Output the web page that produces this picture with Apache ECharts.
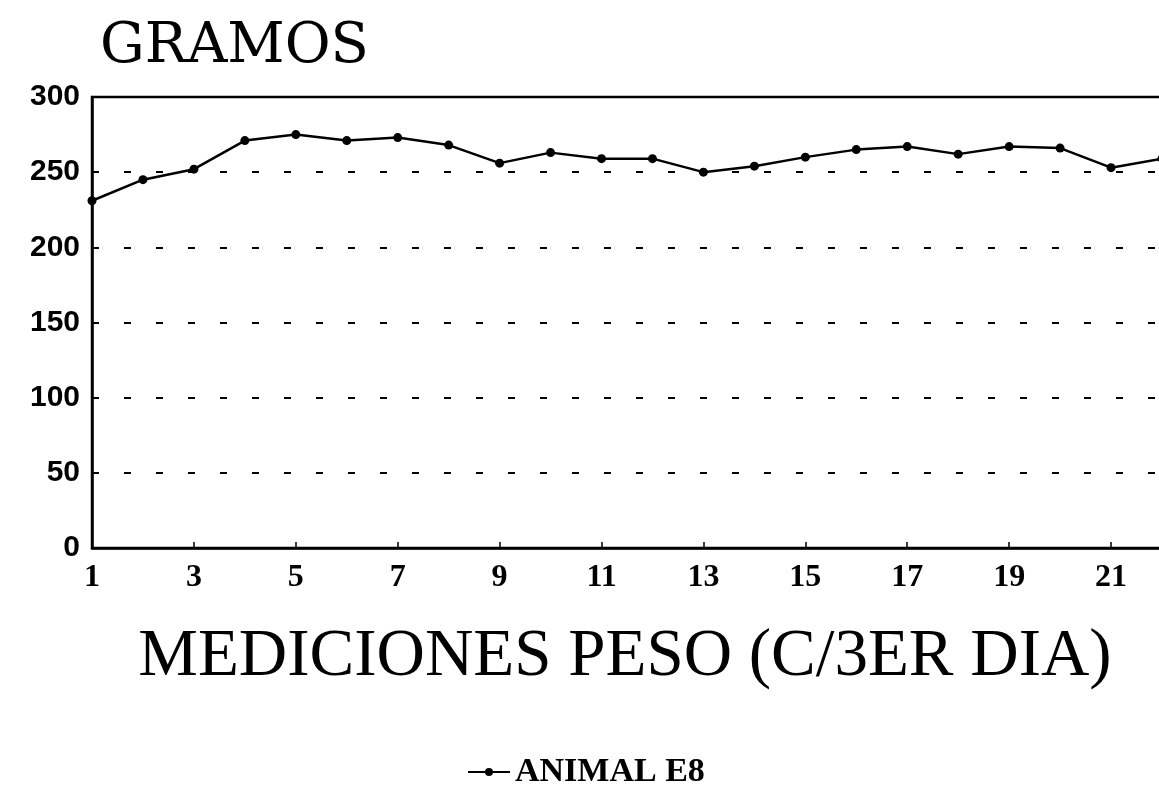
<!DOCTYPE html>
<html>
<head>
<meta charset="utf-8">
<script src="https://cdn.jsdelivr.net/npm/echarts@6/dist/echarts.min.js"></script>
<style>
  html, body { margin: 0; padding: 0; background: #fff; }
  #chart { width: 1159px; height: 789px; }
</style>
</head>
<body>
<div id="chart"></div>
<script>
// mediciones (cada 3er dia)
const mediciones = ['1','2','3','4','5','6','7','8','9','10','11','12','13','14','15','16','17','18','19','20','21','22']
// peso en gramos, animal E8
const animalE8 = [231, 245, 252, 271, 275, 271, 273, 268, 256, 263, 259, 259, 250, 254, 260, 265, 267, 262, 267, 266, 253, 259]

const chart = echarts.init(document.getElementById('chart'))

const option = {
  backgroundColor: '#fff',
  animation: false,
  title: [
    {
      text: 'GRAMOS',
      left: 95,
      top: 14,
      textStyle: { fontFamily: 'DejaVu Serif', fontSize: 56, fontWeight: 'normal', color: '#000' }
    },
    {
      text: 'MEDICIONES PESO (C/3ER DIA)',
      left: 620,
      top: 619,
      textAlign: 'center',
      textStyle: { fontFamily: 'Liberation Serif', fontSize: 67, fontWeight: 'normal', color: '#000' }
    }
  ],
  legend: {
    data: ['ANIMAL E8'],
    left: 462,
    top: 750,
    itemWidth: 42,
    itemHeight: 10,
    itemGap: 6,
    textStyle: { fontFamily: 'Liberation Serif', fontSize: 34, fontWeight: 'bold', color: '#000' }
  },
  grid: {
    left: 92,
    width: 1070,
    top: 97,
    bottom: 241,
    outerBoundsMode: 'none',
    containLabel: false,
    show: true,
    borderColor: '#000',
    borderWidth: 2.5
  },
  xAxis: {
    type: 'category',
    data: mediciones,
    boundaryGap: false,
    axisLine: { lineStyle: { color: '#000', width: 2.5 } },
    axisTick: { show: true, inside: true, interval: 1, length: 6, lineStyle: { color: '#000', width: 1.5 } },
    axisLabel: {
      interval: 1,
      margin: 14,
      fontFamily: 'Liberation Serif',
      fontSize: 32,
      fontWeight: 'bold',
      color: '#000'
    },
    splitLine: { show: false }
  },
  yAxis: {
    type: 'value',
    min: 0,
    max: 300,
    interval: 50,
    axisLine: { show: true, lineStyle: { color: '#000', width: 2.5 } },
    axisTick: { show: false },
    axisLabel: {
      margin: 12,
      fontFamily: 'Liberation Sans',
      fontSize: 30,
      fontWeight: 'bold',
      color: '#000'
    },
    splitLine: {
      show: true,
      lineStyle: { color: '#000', width: 2, type: [7, 25] }
    }
  },
  series: [
    {
      name: 'ANIMAL E8',
      type: 'line',
      data: animalE8,
      symbol: 'circle',
      symbolSize: 9,
      lineStyle: { color: '#000', width: 2.5 },
      itemStyle: { color: '#000' }
    }
  ]
}

chart.setOption(option)
</script>
</body>
</html>
